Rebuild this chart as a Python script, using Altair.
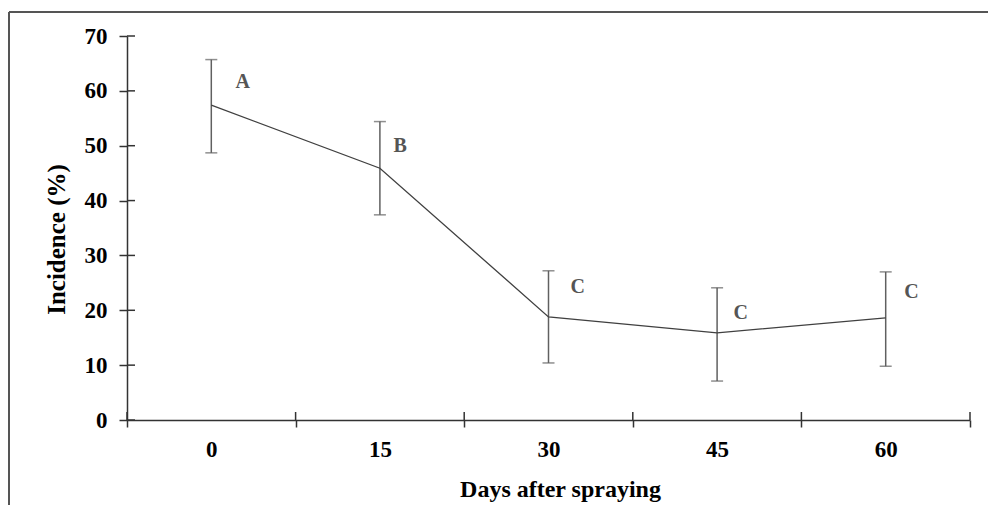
import altair as alt
import pandas as pd

# Data
days = [0, 15, 30, 45, 60]
incidence = [57.4, 45.9, 18.8, 15.9, 18.6]
lower = [48.7, 37.4, 10.4, 7.1, 9.8]
upper = [65.7, 54.4, 27.2, 24.1, 27.0]
letters = ["A", "B", "C", "C", "C"]
letter_x = [2.8, 16.8, 32.6, 47.1, 62.3]
letter_y = [61.6, 49.9, 24.2, 19.5, 23.3]
x_bounds = [-7.5, 7.5, 22.5, 37.5, 52.5, 67.5]
y_ticks = [0, 10, 20, 30, 40, 50, 60, 70]

W, H = 843, 384
FONT = "Liberation Serif"
AX = "#333333"

df = pd.DataFrame({"day": days, "inc": incidence, "lo": lower, "hi": upper,
                   "letter": letters, "lx": letter_x, "ly": letter_y})

xscale = alt.Scale(domain=[-7.5, 67.5], nice=False, zero=False)
yscale = alt.Scale(domain=[0, 70], nice=False)

base = alt.Chart(df)

line = base.mark_line(color="#404040", strokeWidth=1.3).encode(
    x=alt.X("day:Q", scale=xscale,
            axis=alt.Axis(values=x_bounds + days, title="Days after spraying",
                          labelExpr="datum.value % 15 == 0 ? datum.label : ''",
                          tickOpacity=alt.expr("datum.value % 15 == 0 ? 0 : 1"),
                          tickSize=7, tickWidth=1.5, tickColor=AX,
                          domainColor=AX, domainWidth=1.5, grid=False,
                          labelFont=FONT, labelFontSize=23, labelFontWeight="bold",
                          labelColor="#000", labelPadding=11, labelFlush=False,
                          titleFont=FONT, titleFontSize=24, titleFontWeight="bold",
                          titleColor="#000", titlePadding=16, titleX=433)),
    y=alt.Y("inc:Q", scale=yscale,
            axis=alt.Axis(values=y_ticks, title="Incidence (%)",
                          tickSize=8, tickWidth=1.5, tickColor=AX,
                          domainColor=AX, domainWidth=1.5, grid=False,
                          labelFont=FONT, labelFontSize=23, labelFontWeight="bold",
                          labelColor="#000", labelPadding=12,
                          titleFont=FONT, titleFontSize=25, titleFontWeight="bold",
                          titleColor="#000", titlePadding=15, titleY=203)),
)

err = base.mark_rule(color="#606060", strokeWidth=1.5).encode(
    x="day:Q", y="lo:Q", y2="hi:Q")
cap_hi = base.mark_tick(color="#606060", orient="horizontal", size=12, thickness=1.5).encode(
    x="day:Q", y="hi:Q")
cap_lo = base.mark_tick(color="#606060", orient="horizontal", size=12, thickness=1.5).encode(
    x="day:Q", y="lo:Q")

lab = base.mark_text(font=FONT, fontSize=20, fontWeight="bold", color="#555555",
                     baseline="middle").encode(
    x="lx:Q", y="ly:Q", text="letter:N")

xt = alt.Chart(pd.DataFrame({"t": x_bounds})).mark_rule(color=AX, strokeWidth=1.5).encode(
    x="t:Q", y=alt.value(H - 8), y2=alt.value(H))
yt = alt.Chart(pd.DataFrame({"t": y_ticks})).mark_rule(color=AX, strokeWidth=1.5).encode(
    y="t:Q", x=alt.value(0), x2=alt.value(8))

frame_df = pd.DataFrame({"k": [0]})
frame_l = alt.Chart(frame_df).mark_rule(color="#555555", strokeWidth=2).encode(
    x=alt.value(-118), y=alt.value(-24), y2=alt.value(480))
frame_t = alt.Chart(frame_df).mark_rule(color="#555555", strokeWidth=2).encode(
    x=alt.value(-118), x2=alt.value(880), y=alt.value(-24))

chart = alt.layer(frame_l, frame_t, xt, yt, err, cap_hi, cap_lo, line, lab).properties(
    width=W, height=H,
    autosize=alt.AutoSizeParams(type="none"),
    padding={"left": 119, "top": 28, "right": 18, "bottom": 85},
).configure_view(stroke=None)

chart.save("out.html", embed_options={"renderer": "svg", "actions": False})
